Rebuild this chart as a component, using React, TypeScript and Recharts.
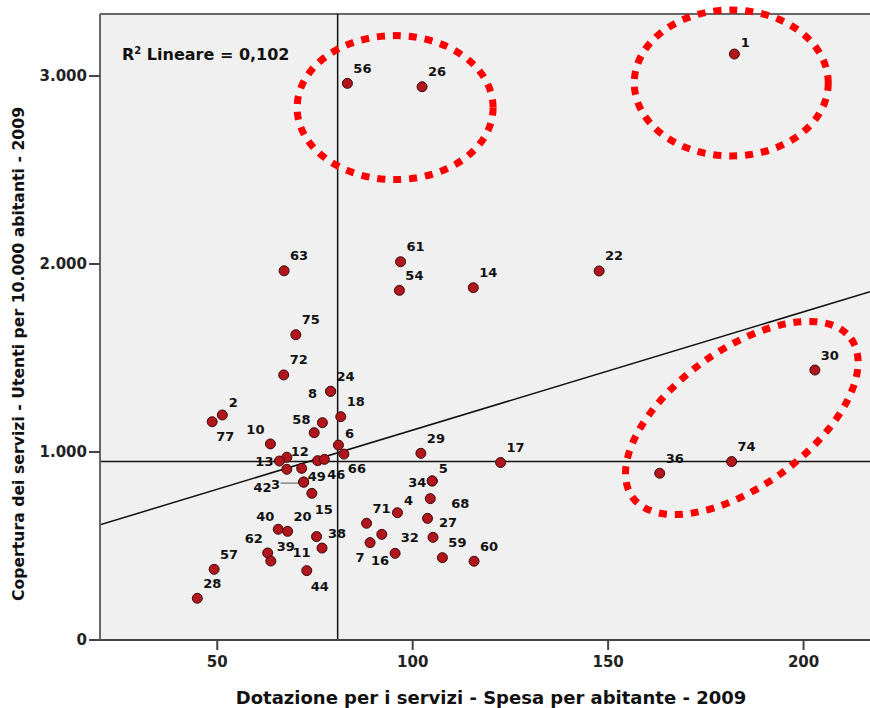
import {
  ScatterChart,
  Scatter,
  XAxis,
  YAxis,
  CartesianGrid,
  ReferenceLine,
  ReferenceDot,
  Label,
} from "recharts";

const FONT = "'DejaVu Sans', 'Liberation Sans', sans-serif";

// comuni (etichette dei punti)
const comuni = [
  "1", "56", "26", "61", "54", "14", "22", "63", "75", "72",
  "24", "8", "18", "58", "", "6", "66", "10", "12", "13",
  "", "49", "", "46", "3", "42", "15", "40", "20", "62",
  "39", "57", "28", "11", "38", "44", "2", "77", "29", "17",
  "5", "34", "68", "4", "", "27", "32", "71", "7", "16",
  "59", "60", "30", "36", "74",
];

// Dotazione per i servizi - Spesa per abitante - 2009
const spesa = [
  182.3, 83.3, 102.4, 96.9, 96.6, 115.5, 147.7, 67.1, 70.1, 67.0,
  79.0, 79.0, 81.6, 76.9, 74.8, 81.0, 82.4, 63.6, 67.8, 65.9,
  67.8, 71.6, 75.7, 77.4, 72.1, 72.1, 74.2, 65.6, 68.0, 62.9,
  63.7, 49.2, 44.9, 75.4, 76.8, 72.9, 51.3, 48.7, 102.1, 122.5,
  105.0, 105.0, 104.5, 96.1, 103.8, 105.2, 92.1, 88.2, 89.1, 95.5,
  107.6, 115.7, 202.9, 163.2, 181.6,
];

// Copertura dei servizi - Utenti per 10.000 abitanti - 2009
const copertura = [
  3117, 2961, 2943, 2012, 1860, 1874, 1963, 1964, 1624, 1410,
  1323, 1323, 1188, 1156, 1103, 1037, 989, 1043, 972, 952,
  908, 913, 954, 961, 840, 840, 780, 589, 578, 463,
  420, 376, 222, 550, 489, 369, 1197, 1161, 993, 944,
  846, 846, 752, 677, 647, 546, 562, 621, 518, 461,
  438, 419, 1436, 887, 949,
];

const xTicks = [50, 100, 150, 200];
const yTicks = [0, 1000, 2000, 3000];
const xDomain = [20, 217];
const yDomain = [0, 3330];

// linee di riferimento e retta di regressione
const refSpesa = 80.8;
const refCopertura = 949;
const fitLine = [
  { x: 20, y: 613 },
  { x: 217, y: 1853 },
];
const r2Text = "0,102";

// centri delle evidenziazioni
const highlightCentres = [
  { x: 95.5, y: 2832 },
  { x: 181.5, y: 2963 },
  { x: 184.2, y: 1181 },
];
const highlightShapes = [
  { rx: 98, ry: 72, rot: 0 },
  { rx: 97, ry: 73, rot: 0 },
  { rx: 135, ry: 68, rot: -36 },
];

// posizione etichette non standard (dx, dy dal centro del punto)
const labelPlace: Record<string, [number, number]> = {
  "8": [-18, 2],
  "58": [-21, -3],
  "66": [13, 14],
  "10": [-15, -14],
  "12": [13, -6],
  "13": [-15, 0],
  "49": [15, 8],
  "46": [12, 15],
  "3": [-28, 2],
  "42": [-41, 5],
  "15": [12, 16],
  "40": [-13, -13],
  "62": [-14, -14],
  "11": [-15, 16],
  "44": [13, 16],
  "77": [13, 15],
  "34": [-15, 2],
  "68": [30, 5],
  "32": [28, 3],
  "7": [-10, 15],
  "16": [-15, 7],
};

const data = comuni.map((id, i) => ({ id, x: spesa[i], y: copertura[i] }));

const fmt = (v: number) =>
  String(v).replace(/\B(?=(\d{3})+(?!\d))/g, ".");

function Dot(props: any) {
  const { cx, cy, payload } = props;
  const id: string = payload.id;
  const [dx, dy] =
    labelPlace[id] ?? (id.length === 1 ? [11, -12] : [15, -15]);
  return (
    <g>
      <circle cx={cx} cy={cy} r={5} fill="#b0161c" stroke="#3a0a0a" strokeWidth={1} />
      {id === "3" && (
        <line x1={cx - 23} x2={cx - 5} y1={cy + 1} y2={cy + 1} stroke="#555" strokeWidth={1} />
      )}
      {id && (
        <text
          x={cx + dx}
          y={cy + dy}
          textAnchor="middle"
          dominantBaseline="central"
          fontFamily={FONT}
          fontWeight="bold"
          fontSize={13}
          fill="#111"
        >
          {id}
        </text>
      )}
    </g>
  );
}

export default function App() {
  return (
    <div style={{ position: "absolute", left: 0, top: 0, width: 870, height: 708, background: "#fff" }}>
      <ScatterChart width={870} height={708} margin={{ top: 14, right: 0, bottom: 0, left: 0 }}>
        <CartesianGrid fill="#f0f0f0" fillOpacity={1} horizontal={false} vertical={false} />
        <XAxis
          type="number"
          dataKey="x"
          domain={xDomain}
          ticks={xTicks}
          allowDataOverflow
          height={68}
          tickSize={10}
          tickMargin={6}
          axisLine={{ stroke: "#444", strokeWidth: 2 }}
          tickLine={{ stroke: "#444", strokeWidth: 2 }}
          tick={{ fontSize: 15, fontWeight: "bold", fill: "#222", fontFamily: FONT }}
        >
          <Label
            content={() => (
              <text
                x={491}
                y={697}
                textAnchor="middle"
                dominantBaseline="central"
                fontFamily={FONT}
                fontWeight="bold"
                fontSize={18}
                fill="#111"
              >
                Dotazione per i servizi - Spesa per abitante - 2009
              </text>
            )}
          />
        </XAxis>
        <YAxis
          type="number"
          dataKey="y"
          domain={yDomain}
          ticks={yTicks}
          allowDataOverflow
          width={100}
          tickSize={11}
          tickMargin={2}
          tickFormatter={fmt}
          axisLine={{ stroke: "#666", strokeWidth: 2 }}
          tickLine={{ stroke: "#444", strokeWidth: 2 }}
          tick={{ fontSize: 15, fontWeight: "bold", fill: "#222", fontFamily: FONT }}
        >
          <Label
            content={() => (
              <text
                x={18}
                y={354}
                transform="rotate(-90 18 354)"
                textAnchor="middle"
                dominantBaseline="central"
                fontFamily={FONT}
                fontWeight="bold"
                fontSize={15.7}
                fill="#111"
              >
                Copertura dei servizi - Utenti per 10.000 abitanti - 2009
              </text>
            )}
          />
        </YAxis>
        <ReferenceLine y={yDomain[1]} stroke="#666" strokeWidth={2} />
        <Scatter data={data} shape={Dot} isAnimationActive={false} />
        <ReferenceLine x={refSpesa} stroke="#111" strokeWidth={1.5} />
        <ReferenceLine y={refCopertura} stroke="#111" strokeWidth={1.5} />
        <ReferenceLine segment={fitLine} stroke="#111" strokeWidth={1.5} ifOverflow="hidden" />
        <ReferenceDot
          x={xDomain[0]}
          y={yDomain[1]}
          r={0}
          shape={(p: any) => (
            <text
              x={p.cx + 22}
              y={p.cy + 46}
              fontFamily={FONT}
              fontWeight="bold"
              fontSize={16}
              fill="#111"
            >
              R<tspan dy={-6} fontSize={10}>2</tspan>
              <tspan dy={6}>{` Lineare = ${r2Text}`}</tspan>
            </text>
          )}
        />
        {highlightCentres.map((c, i) => (
          <ReferenceDot
            key={i}
            x={c.x}
            y={c.y}
            r={0}
            shape={(p: any) => (
              <ellipse
                cx={p.cx}
                cy={p.cy}
                rx={highlightShapes[i].rx}
                ry={highlightShapes[i].ry}
                transform={`rotate(${highlightShapes[i].rot} ${p.cx} ${p.cy})`}
                fill="none"
                stroke="#ff0000"
                strokeWidth={7}
                strokeDasharray="8 8"
              />
            )}
          />
        ))}
      </ScatterChart>
    </div>
  );
}
